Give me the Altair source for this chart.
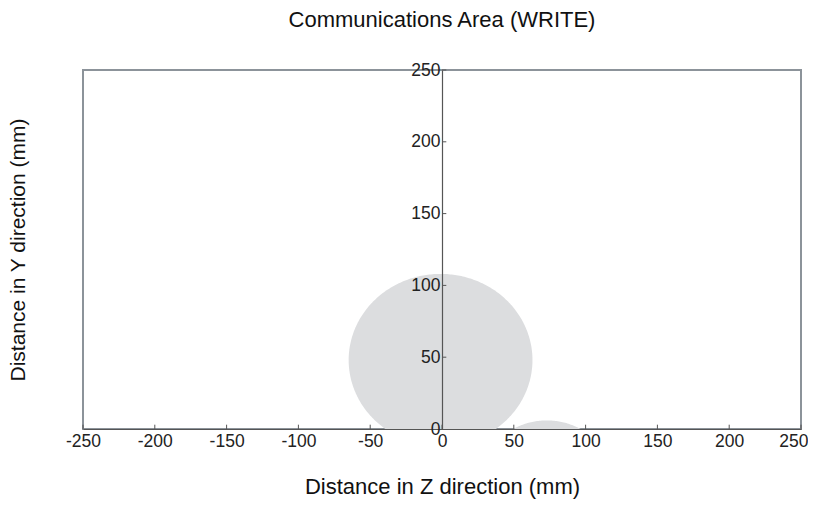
import altair as alt
import numpy as np
import pandas as pd

# Data
shape_names = ["main", "side"]
center_z = [-1.0, 73.0]      # mm
center_y = [48.0, -43.0]     # mm
radius_z = [64.0, 49.0]      # mm
radius_y = [60.0, 49.0]      # mm

x_ticks = [-250, -200, -150, -100, -50, 0, 50, 100, 150, 200, 250]
y_ticks = [0, 50, 100, 150, 200, 250]

# Build ellipse outlines (upper / lower boundary per z) from centres and radii
rows = []
for name, cz, cy, rz, ry in zip(shape_names, center_z, center_y, radius_z, radius_y):
    t = np.linspace(np.pi, 0, 181)
    zs = cz + rz * np.cos(t)
    h = ry * np.sin(t)
    for z, hh in zip(zs, h):
        rows.append({"shape": name, "z": z, "lo": cy - hh, "hi": cy + hh})
ell = pd.DataFrame(rows)

xt = pd.DataFrame({"t": x_ticks})
yt = pd.DataFrame({"t": [v for v in y_ticks if v != 0]})

FONT = "Liberation Sans"
xscale = alt.Scale(domain=[-250, 250], nice=False, zero=False)
yscale = alt.Scale(domain=[0, 250], nice=False, zero=False)

area = alt.Chart(ell).mark_area(color="#dcdddf", clip=True, opacity=1).encode(
    x=alt.X("z:Q", scale=xscale, axis=alt.Axis(
        title="Distance in Z direction (mm)", values=x_ticks, ticks=False,
        labelExpr="'' + datum.value",
        labelAlign={"condition": {"test": "datum.value == 250", "value": "right"}, "value": "center"},
        labelOffset={"condition": {"test": "datum.value == 250", "value": 7}, "value": 0},
        labelPadding=3, labelFontSize=17.5, labelFont=FONT, labelColor="#222222",
        titleFont=FONT, titleFontSize=22, titleFontWeight="normal", titleColor="#111111",
        titlePadding=27, domainColor="#555555", domainWidth=1.2, grid=False, zindex=1,
        labelFlush=False)),
    y=alt.Y("lo:Q", scale=yscale, axis=alt.Axis(
        title="Distance in Y direction (mm)", values=y_ticks, ticks=False, orient="left",
        labelExpr="'' + datum.value",
        offset=-359, labelPadding=2, labelFontSize=17.5, labelFont=FONT, labelColor="#222222",
        titleFont=FONT, titleFontSize=21, titleFontWeight="normal", titleColor="#111111",
        titleX=-424, titleY=179.5, titleAngle=-90, titleBaseline="middle", titleAlign="center",
        domainColor="#555555", domainWidth=1.2, grid=False, zindex=1, labelFlush=False)),
    y2="hi:Q",
    detail="shape:N",
)

xticks = alt.Chart(xt).mark_rule(color="#555555", strokeWidth=1).encode(
    x=alt.X("t:Q", scale=xscale),
    y=alt.Y("y0:Q", scale=yscale),
    y2="y1:Q",
).transform_calculate(y0="0", y1="3")

yticks = alt.Chart(yt).mark_rule(color="#555555", strokeWidth=1).encode(
    y=alt.Y("t:Q", scale=yscale),
    x=alt.X("x0:Q", scale=xscale),
    x2="x1:Q",
).transform_calculate(x0="0", x1="3")

chart = alt.layer(area, xticks, yticks).properties(
    width=718, height=359,
    title=alt.Title("Communications Area (WRITE)", font=FONT, fontSize=22,
                    fontWeight="normal", color="#111111", anchor="middle", offset=29),
    autosize=alt.AutoSizeParams(type="none"),
    padding={"left": 75, "top": 62, "right": 7, "bottom": 71},
).configure(background="white").configure_view(stroke="#8c939a", strokeWidth=2)

chart.save("out.html", embed_options={"renderer": "svg", "actions": False})
